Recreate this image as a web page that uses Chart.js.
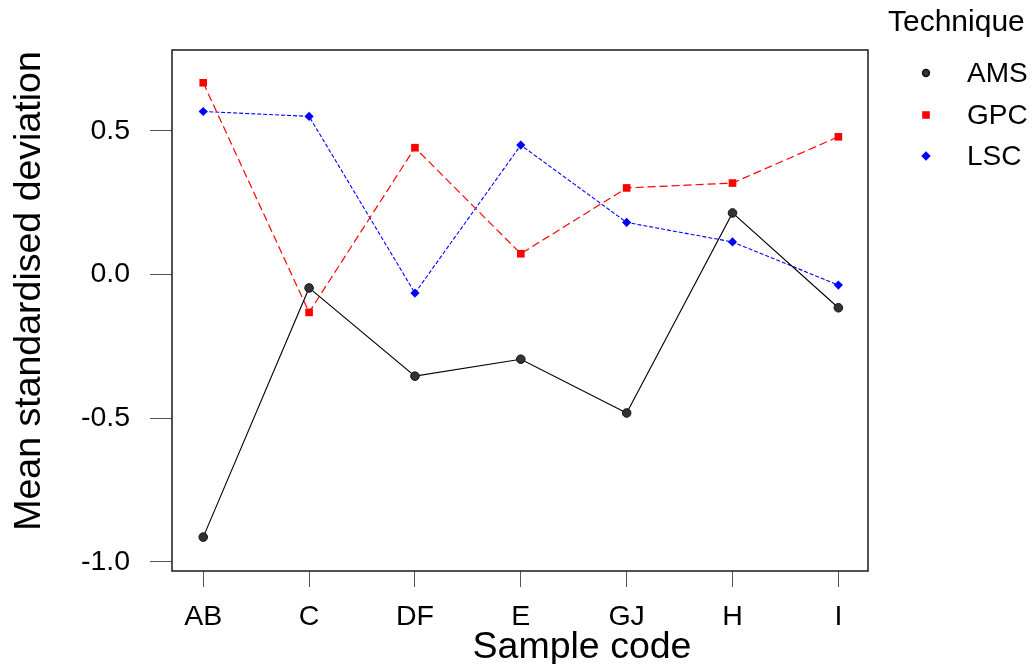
<!DOCTYPE html>
<html>
<head>
<meta charset="utf-8">
<script src="https://cdn.jsdelivr.net/npm/chart.js@4.4.1/dist/chart.umd.min.js"></script>
<style>
  html, body { margin: 0; padding: 0; background: #fff; }
  #wrap { width: 1034px; height: 664px; position: relative; }
</style>
</head>
<body>
<div id="wrap"><canvas id="chart"></canvas></div>
<script>
// dados
const sampleCodes = ['AB', 'C', 'DF', 'E', 'GJ', 'H', 'I'];
const amsValues = [-0.914, -0.047, -0.354, -0.295, -0.482, 0.214, -0.116];
const gpcValues = [0.667, -0.132, 0.441, 0.072, 0.301, 0.318, 0.479];
const lscValues = [0.567, 0.550, -0.065, 0.450, 0.181, 0.113, -0.037];
const yTicks = [-1.0, -0.5, 0.0, 0.5];
const techniques = ['AMS', 'GPC', 'LSC'];

const FONT = "'Liberation Sans', Arial, sans-serif";

function toPoints(values) {
    return values.map((v, i) => ({ x: i, y: v }));
}

// caixa, legenda e títulos dos eixos
const extras = {
    id: 'extras',
    afterDraw(chart) {
        const ctx = chart.ctx;
        const a = chart.chartArea;
        ctx.save();
        ctx.strokeStyle = '#1a1a1a';
        ctx.lineWidth = 1.5;
        ctx.strokeRect(a.left, a.top, a.right - a.left, a.bottom - a.top);

        ctx.fillStyle = '#000';
        ctx.font = '37.5px ' + FONT;
        ctx.textAlign = 'center';
        ctx.textBaseline = 'alphabetic';
        ctx.fillText('Sample code', 582, 658);

        ctx.save();
        ctx.translate(40, 291);
        ctx.rotate(-Math.PI / 2);
        ctx.fillText('Mean standardised deviation', 0, 0);
        ctx.restore();

        // legenda
        ctx.textAlign = 'left';
        ctx.textBaseline = 'middle';
        ctx.font = '30px ' + FONT;
        ctx.fillText('Technique', 888, 23);
        ctx.font = '28px ' + FONT;
        const ys = [73, 115, 156];
        chart.data.datasets.forEach((ds, i) => {
            ctx.fillStyle = ds.pointBackgroundColor;
            ctx.strokeStyle = ds.pointBorderColor;
            ctx.setLineDash([]);
            Chart.helpers.drawPoint(ctx, {
                pointStyle: ds.pointStyle,
                radius: ds.pointRadius * 0.8,
                rotation: 0,
                borderWidth: 1
            }, 926, ys[i]);
            ctx.fillStyle = '#000';
            ctx.fillText(techniques[i], 967, ys[i] + 1);
        });
        ctx.restore();
    }
};

new Chart(document.getElementById('chart'), {
    type: 'line',
    data: {
        datasets: [{
            label: 'AMS',
            data: toPoints(amsValues),
            borderColor: '#000',
            borderWidth: 1.1,
            pointStyle: 'circle',
            pointRadius: 4.3,
            pointBackgroundColor: '#333',
            pointBorderColor: '#111',
            pointBorderWidth: 1
        }, {
            label: 'GPC',
            data: toPoints(gpcValues),
            borderColor: '#ff0000',
            borderWidth: 1.2,
            borderDash: [8, 4],
            pointStyle: 'rect',
            pointRadius: 5.4,
            pointBackgroundColor: '#ff0000',
            pointBorderColor: '#ff0000',
            pointBorderWidth: 0
        }, {
            label: 'LSC',
            data: toPoints(lscValues),
            borderColor: '#0000ff',
            borderWidth: 1.1,
            borderDash: [4, 2],
            pointStyle: 'rectRot',
            pointRadius: 4.6,
            pointBackgroundColor: '#0000ff',
            pointBorderColor: '#0000ff',
            pointBorderWidth: 0
        }]
    },
    options: {
        responsive: true,
        maintainAspectRatio: false,
        animation: false,
        layout: { padding: { left: 0, right: 166, top: 50, bottom: 0 } },
        plugins: {
            legend: { display: false },
            tooltip: { enabled: false }
        },
        scales: {
            x: {
                type: 'linear',
                min: -0.295,
                max: 6.28,
                afterBuildTicks: s => { s.ticks = sampleCodes.map((_, i) => ({ value: i })); },
                afterFit: s => { s.height = 93; },
                ticks: {
                    callback: v => sampleCodes[v],
                    color: '#000',
                    font: { family: FONT, size: 28.5 },
                    padding: 13,
                    maxRotation: 0,
                    autoSkip: false
                },
                grid: { drawOnChartArea: false, tickLength: 16, color: '#555', lineWidth: 1 },
                border: { display: false }
            },
            y: {
                type: 'linear',
                min: -1.032,
                max: 0.781,
                afterBuildTicks: s => { s.ticks = yTicks.map(v => ({ value: v })); },
                afterFit: s => { s.width = 172; },
                ticks: {
                    callback: v => v.toFixed(1),
                    color: '#000',
                    font: { family: FONT, size: 28.5 },
                    padding: 20
                },
                grid: { drawOnChartArea: false, tickLength: 22, color: '#555', lineWidth: 1 },
                border: { display: false }
            }
        }
    },
    plugins: [extras]
});
</script>
</body>
</html>
